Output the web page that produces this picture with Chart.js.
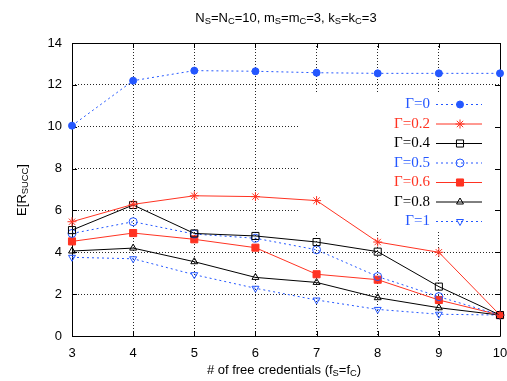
<!DOCTYPE html>
<html>
<head>
<meta charset="utf-8">
<script src="https://cdn.jsdelivr.net/npm/chart.js@4/dist/chart.umd.min.js"></script>
<style>
  html, body { margin: 0; padding: 0; background: #fff; }
  #wrap { width: 507px; height: 381px; }
</style>
</head>
<body>
<div id="wrap"><canvas id="c"></canvas></div>
<script>
// free credentials (x axis)
var credenziali = ['3', '4', '5', '6', '7', '8', '9', '10'];
var yTicks = [0, 2, 4, 6, 8, 10, 12, 14];

// E[R_SUCC] for each Gamma
var gamma0  = [10.05, 12.2, 12.68, 12.65, 12.58, 12.55, 12.55, 12.55];
var gamma02 = [5.46, 6.29, 6.70, 6.66, 6.47, 4.49, 4.0, 1.0];
var gamma04 = [5.06, 6.26, 4.90, 4.78, 4.49, 4.03, 2.36, 1.0];
var gamma05 = [4.90, 5.46, 4.87, 4.67, 4.12, 2.84, 1.88, 1.0];
var gamma06 = [4.52, 4.92, 4.62, 4.22, 2.95, 2.69, 1.72, 1.0];
var gamma08 = [4.06, 4.20, 3.55, 2.80, 2.56, 1.83, 1.35, 1.0];
var gamma1  = [3.76, 3.69, 2.93, 2.28, 1.72, 1.27, 1.04, 1.0];

var BLU = '#2457ff';
var ROSSO = '#ff3322';
var NERO = '#000000';
var VUOTO = 'rgba(0,0,0,0)';

function serie(label, data, col, style, radius, filled, dash, rot) {
  return {
    label: label,
    data: data,
    borderColor: col,
    backgroundColor: filled ? col : VUOTO,
    borderWidth: 1,
    borderDash: dash,
    pointStyle: style,
    pointRotation: rot || 0,
    pointRadius: radius,
    pointBorderWidth: 1,
    pointBorderColor: col,
    pointBackgroundColor: filled ? col : VUOTO,
    tension: 0,
    fill: false
  };
}

var datasets = [
  serie('\u0393=0',   gamma0,  BLU,   'circle',   3.5, true,  [2, 3]),
  serie('\u0393=0.2', gamma02, ROSSO, 'star',     4.5, false, []),
  serie('\u0393=0.4', gamma04, NERO,  'rect',     5,   false, []),
  serie('\u0393=0.5', gamma05, BLU,   'circle',   4,   false, [2, 3]),
  serie('\u0393=0.6', gamma06, ROSSO, 'rect',     5,   true,  []),
  serie('\u0393=0.8', gamma08, NERO,  'triangle', 4,   false, []),
  serie('\u0393=1',   gamma1,  BLU,   'triangle', 4,   false, [2, 3], 180)
];

// testo con pedici
function testoPedici(ctx, parts, x, y, size, align) {
  var w = 0;
  parts.forEach(function (p) {
    ctx.font = (p[1] ? size * 0.72 : size) + 'px "Liberation Sans", Arial, sans-serif';
    w += ctx.measureText(p[0]).width;
  });
  var cx = align === 'center' ? x - w / 2 : x;
  parts.forEach(function (p) {
    ctx.font = (p[1] ? size * 0.72 : size) + 'px "Liberation Sans", Arial, sans-serif';
    ctx.fillText(p[0], cx, p[1] ? y + size * 0.3 : y);
    cx += ctx.measureText(p[0]).width;
  });
}

var sfondo = {
  id: 'sfondo',
  beforeDatasetsDraw: function (chart) {
    var ctx = chart.ctx, a = chart.chartArea;
    var xs = chart.scales.x, ys = chart.scales.y;
    ctx.save();
    // legend box hides the grid
    ctx.fillStyle = '#fff';
    ctx.fillRect(300, 94, a.right - 300, 138);
    // frame and inward ticks
    ctx.strokeStyle = '#000';
    ctx.lineWidth = 1;
    ctx.setLineDash([]);
    ctx.beginPath();
    ctx.rect(Math.round(a.left) + 0.5, Math.round(a.top) + 0.5,
      Math.round(a.right - a.left), Math.round(a.bottom - a.top));
    credenziali.forEach(function (c, i) {
      var px = Math.round(xs.getPixelForValue(i)) + 0.5;
      ctx.moveTo(px, a.bottom); ctx.lineTo(px, a.bottom - 5);
      ctx.moveTo(px, a.top); ctx.lineTo(px, a.top + 5);
    });
    yTicks.forEach(function (v) {
      var py = Math.round(ys.getPixelForValue(v)) + 0.5;
      ctx.moveTo(a.left, py); ctx.lineTo(a.left + 5, py);
      ctx.moveTo(a.right, py); ctx.lineTo(a.right - 5, py);
    });
    ctx.stroke();
    ctx.restore();
  },
  afterDraw: function (chart) {
    var ctx = chart.ctx, a = chart.chartArea;
    ctx.save();
    ctx.fillStyle = '#000';
    ctx.textBaseline = 'middle';
    ctx.textAlign = 'left';
    // titolo
    testoPedici(ctx, [['N'], ['S', 1], ['=N'], ['C', 1], ['=10, m'], ['S', 1], ['=m'], ['C', 1],
      ['=3, k'], ['S', 1], ['=k'], ['C', 1], ['=3']], 286, 18, 13, 'center');
    // asse x
    testoPedici(ctx, [['# of free credentials (f'], ['S', 1], ['=f'], ['C', 1], [')']], 284, 370, 13, 'center');
    // asse y
    ctx.save();
    ctx.translate(22, 190);
    ctx.rotate(-Math.PI / 2);
    testoPedici(ctx, [['E[R'], ['SUCC', 1], [']']], 0, 0, 13, 'center');
    ctx.restore();

    // legenda
    chart.data.datasets.forEach(function (ds, i) {
      var y = 104.5 + i * 19.5;
      ctx.font = '15px "Liberation Serif", "Times New Roman", serif';
      ctx.textAlign = 'right';
      ctx.fillStyle = ds.borderColor;
      ctx.fillText(ds.label, 430, y);
      ctx.strokeStyle = ds.borderColor;
      ctx.lineWidth = 1;
      ctx.setLineDash(ds.borderDash);
      ctx.beginPath();
      ctx.moveTo(436, y); ctx.lineTo(482, y);
      ctx.stroke();
      ctx.setLineDash([]);
      ctx.fillStyle = ds.pointBackgroundColor;
      Chart.helpers.drawPoint(ctx, {
        pointStyle: ds.pointStyle,
        rotation: ds.pointRotation,
        radius: ds.pointRadius,
        borderWidth: 1
      }, 460, y);
    });
    ctx.restore();
  }
};

var ctx = document.getElementById('c');
var chart = new Chart(ctx, {
  type: 'line',
  data: { labels: credenziali, datasets: datasets },
  options: {
    responsive: true,
    maintainAspectRatio: false,
    animation: false,
    events: [],
    layout: { padding: { top: 43, right: 7, left: 0, bottom: 0 } },
    plugins: { legend: { display: false }, title: { display: false }, tooltip: { enabled: false } },
    scales: {
      x: {
        offset: false,
        grid: { color: 'rgba(0,0,0,0.85)', lineWidth: 1, drawTicks: false },
        border: { display: false, dash: [1, 2] },
        ticks: { color: '#000', padding: 10, maxRotation: 0, autoSkip: false,
          font: { family: '"Liberation Sans", Arial, sans-serif', size: 13 } },
        afterFit: function (s) { s.height = 45; s.paddingLeft = 0; s.paddingRight = 0; }
      },
      y: {
        min: 0, max: 14,
        grid: { color: 'rgba(0,0,0,0.85)', lineWidth: 1, drawTicks: false },
        border: { display: false, dash: [1, 2] },
        ticks: { stepSize: 2, color: '#000', padding: 10,
          font: { family: '"Liberation Sans", Arial, sans-serif', size: 13 } },
        afterFit: function (s) { s.width = 72; s.paddingTop = 0; s.paddingBottom = 0; }
      }
    }
  },
  plugins: [sfondo]
});
</script>
</body>
</html>
